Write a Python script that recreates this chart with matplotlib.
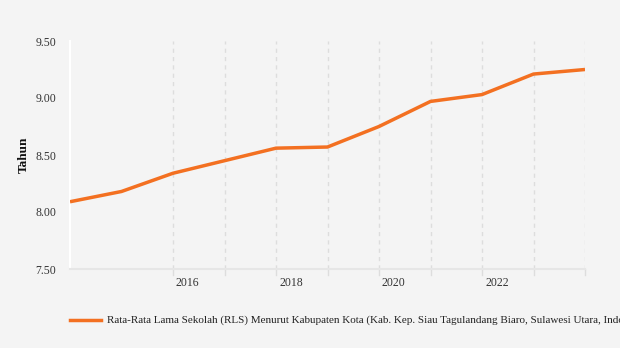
import matplotlib
matplotlib.use('Agg')
import matplotlib.pyplot as plt
import matplotlib.transforms as mtransforms

years = [2014, 2015, 2016, 2017, 2018, 2019, 2020, 2021, 2022, 2023, 2024]
rls = [8.09, 8.18, 8.34, 8.45, 8.56, 8.57, 8.75, 8.97, 9.03, 9.21, 9.25]
series_label = 'Rata-Rata Lama Sekolah (RLS) Menurut Kabupaten Kota (Kab. Kep. Siau Tagulandang Biaro, Sulawesi Utara, Indonesia)'
yticks = [7.5, 8.0, 8.5, 9.0, 9.5]
xticks = [2016, 2018, 2020, 2022]

plt.rcParams['font.family'] = ['Liberation Serif', 'DejaVu Serif']
bg = '#f4f4f4'
fig = plt.figure(figsize=(6.2, 3.48), dpi=100, facecolor=bg)
ax = fig.add_axes([70/620, 1-269/348, 515/620, 228/348], facecolor=bg)

# dashed year gridlines with a short tick below the axis
for yr in range(2016, 2025):
    ax.plot([yr, yr], [7.5, 9.5], color='#dddddd', lw=1, ls=(0, (3, 3)), zorder=1)
    ax.plot([yr, yr], [7.5, 7.45], color='#dddddd', lw=1, zorder=1, clip_on=False)

ax.plot(years, rls, color='#f37021', lw=2.5, zorder=3, solid_capstyle='butt')

ax.set_xlim(2014, 2024)
ax.set_ylim(7.5, 9.5)
ax.set_yticks(yticks)
ax.set_yticklabels([f'{v:.2f}' for v in yticks])
ax.set_xticks(xticks)
ax.set_xticklabels([str(x) for x in xticks])
ax.tick_params(axis='both', length=0, labelsize=8.5, colors='#333333')
ax.tick_params(axis='y', pad=10)
ax.tick_params(axis='x', pad=6)
offset = mtransforms.ScaledTranslation(3/100, 0, fig.dpi_scale_trans)
for lab in ax.get_xticklabels():
    lab.set_horizontalalignment('left')
    lab.set_transform(lab.get_transform() + offset)
for s in ['top', 'right']:
    ax.spines[s].set_visible(False)
ax.spines['left'].set_color('white')
ax.spines['left'].set_linewidth(1.5)
ax.spines['bottom'].set_color('#e6e6e6')
ax.spines['bottom'].set_linewidth(1.5)
ax.set_ylabel('Tahun', fontsize=9.5, fontweight='bold', color='#111111', labelpad=4)

fig.lines.append(plt.Line2D([70/620, 101/620], [1-320/348]*2, color='#f37021', lw=2.5,
                            transform=fig.transFigure))
fig.text(107/620, 1-320/348, series_label, fontsize=8.0, color='#222222', va='center', ha='left')

fig.savefig('out.png', dpi=100, facecolor=bg)
